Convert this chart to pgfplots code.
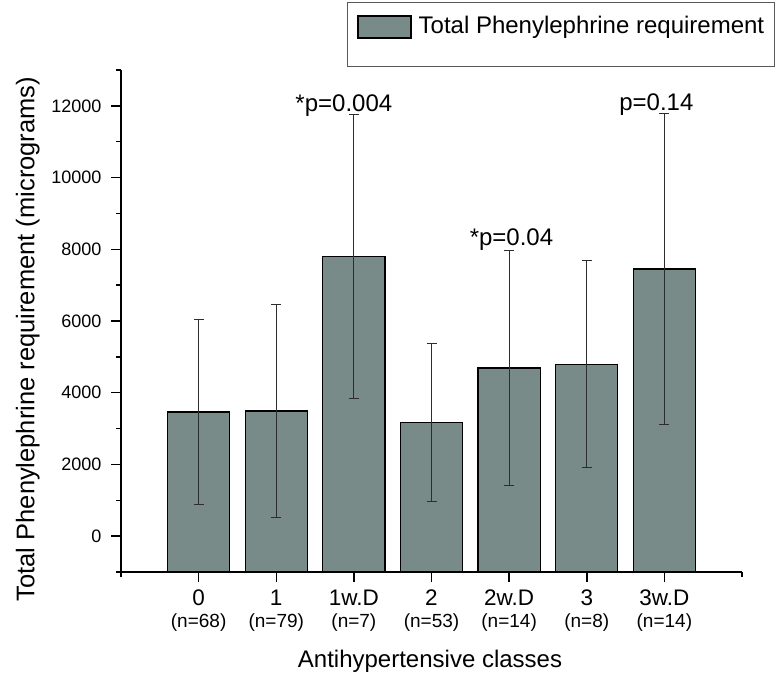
\documentclass[border=0pt]{standalone}
\usepackage{pgfplots}
\pgfplotsset{compat=1.18}
\usepackage{fontspec}
\setmainfont{Liberation Sans}
\definecolor{barfill}{RGB}{120,139,137}
\definecolor{errc}{RGB}{45,45,45}
\newcommand{\nsm}{\fontsize{19}{21}\selectfont}
\begin{document}
\begin{tikzpicture}[x=1pt,y=1pt]
% the y axis is shifted by +1000 internally so that the bars rise from the x axis (at -1000)
\begin{axis}[
  at={(121pt,105pt)}, anchor=south west,
  scale only axis, width=621pt, height=502pt,
  xmin=-1, xmax=7, ymin=0, ymax=14000,
  axis x line=bottom, axis y line=left,
  axis line style={-, line width=1.5pt, black},
  tick align=outside, major tick length=10pt, minor tick length=5pt,
  every tick/.style={line width=1.5pt, black},
  scaled y ticks=false,
  ytick={1000,3000,...,13000},
  yticklabels={0,2000,4000,6000,8000,10000,12000},
  minor ytick={0,2000,...,14000},
  yticklabel style={font=\fontsize{18}{20}\selectfont, xshift=-6pt},
  xtick={0,...,6},
  xticklabels={
    {0\\\nsm (n=68)},
    {1\\\nsm (n=79)},
    {1w.D\\\nsm (n=7)},
    {2\\\nsm (n=53)},
    {2w.D\\\nsm (n=14)},
    {3\\\nsm (n=8)},
    {3w.D\\\nsm (n=14)}},
  xticklabel style={align=center, font=\fontsize{22.5}{22}\selectfont, yshift=-4pt},
  extra x ticks={-1,7},
  extra x tick labels={,},
  extra x tick style={major tick length=5pt},
  ylabel={Total Phenylephrine requirement (micrograms)},
  ylabel style={at={(axis description cs:-0.15,0.464)}, anchor=center, font=\fontsize{25.5}{28}\selectfont},
  xlabel={Antihypertensive classes},
  xlabel style={at={(axis description cs:0.4976,-0.177)}, anchor=center, font=\fontsize{24}{28}\selectfont},
  ybar, bar width=0.8,
  legend style={at={(axis description cs:0.3639,1.1345)}, anchor=north west,
    draw=gray!70!black, line width=1pt, fill=white,
    font=\fontsize{24}{28}\selectfont,
    inner xsep=10pt, inner ysep=4pt,
    cells={anchor=base west},
    nodes={inner sep=0pt, text height=27pt, text depth=29pt}},
  legend image code/.code={\draw[#1, line width=1.2pt] (0pt,-4pt) rectangle (53pt,18pt);},
  clip=false,
]
\addplot[fill=barfill, draw=black, line width=1.3pt,
  y filter/.expression={y+1000},
  error bars/.cd, y dir=both, y explicit,
  error bar style={line width=1pt, errc},
  error mark options={rotate=90, errc, mark size=5pt, line width=1pt}]
  table[x=x, y=y, y error=e] {
x y e
0 3465 2585
1 3490 2975
2 7807 3958
3 3176 2196
4 4690 3280
5 4795 2890
6 7450 4350
};
\addlegendentry{\hspace*{7pt}Total Phenylephrine requirement\hspace{20pt}}
\node[anchor=base, font=\fontsize{24}{28}\selectfont] at (axis cs:1.871,12840) {*p=0.004};
\node[anchor=base, font=\fontsize{24}{28}\selectfont] at (axis cs:4.03,9095) {*p=0.04};
\node[anchor=base, font=\fontsize{24}{28}\selectfont] at (axis cs:5.897,12860) {p=0.14};
\end{axis}
\pgfresetboundingbox
\useasboundingbox (0,0) rectangle (775,677);
\end{tikzpicture}
\end{document}
